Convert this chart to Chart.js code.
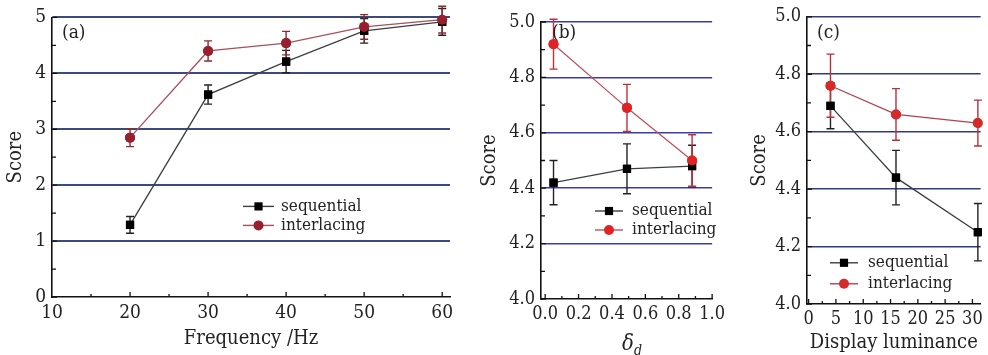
<!DOCTYPE html>
<html>
<head>
<meta charset="utf-8">
<script src="https://cdn.jsdelivr.net/npm/chart.js@4.4.1/dist/chart.umd.min.js"></script>
<style>
  html, body { margin: 0; padding: 0; background: #fff; }
  body { width: 988px; height: 355px; position: relative; overflow: hidden; }
  .panel { position: absolute; top: 0; height: 355px; }
  .xtitle { position: absolute; font-family: 'DejaVu Serif Condensed', 'DejaVu Serif'; font-size: 22px; color: #222; }
</style>
</head>
<body>
<div class="panel" style="left:0;width:470px"><canvas id="chartA"></canvas></div>
<div class="panel" style="left:480px;width:250px"><canvas id="chartB"></canvas></div>
<div class="panel" style="left:740px;width:248px"><canvas id="chartC"></canvas></div>
<div class="xtitle" style="left:622px;top:330px"><i>δ</i><sub style="font-size:14px"><i>d</i></sub></div>
<script>
// (a) frequence
const freq = [20, 30, 40, 50, 60];
const seqA = [1.29, 3.62, 4.21, 4.76, 4.92];
const seqAErr = [0.15, 0.17, 0.20, 0.22, 0.24];
const intA = [2.85, 4.40, 4.54, 4.83, 4.96];
const intAErr = [0.16, 0.18, 0.21, 0.22, 0.24];
const xTicksA = [10, 20, 30, 40, 50, 60];
const yTicksA = [0, 1, 2, 3, 4, 5];

// (b) delta_d
const deltaD = [0.05, 0.49, 0.88];
const seqB = [4.42, 4.47, 4.48];
const seqBErr = [0.08, 0.09, 0.075];
const intB = [4.92, 4.69, 4.50];
const intBErr = [0.09, 0.085, 0.093];
const xTicksB = [0.0, 0.2, 0.4, 0.6, 0.8, 1.0];

// (c) luminance
const lum = [4, 16, 31];
const seqC = [4.69, 4.44, 4.25];
const seqCErr = [0.08, 0.095, 0.10];
const intC = [4.76, 4.66, 4.63];
const intCErr = [0.11, 0.09, 0.08];
const xTicksC = [0, 5, 10, 15, 20, 25, 30];
const yTicksBC = [4.0, 4.2, 4.4, 4.6, 4.8, 5.0];

const serif = "'DejaVu Serif Condensed', 'DejaVu Serif'";

function toPoints(xs, ys) {
    return xs.map((x, i) => ({ x: x, y: ys[i] }));
}

// barres d'erreur, ticks vers l'interieur, legende et etiquette du panneau
const panelDecor = {
    id: 'panelDecor',
    afterDatasetsDraw(chart, args, o) {
        const ctx = chart.ctx;
        const xs = chart.scales.x, ys = chart.scales.y;
        const area = chart.chartArea;

        // barres d'erreur
        chart.data.datasets.forEach((ds, di) => {
            const meta = chart.getDatasetMeta(di);
            ctx.save();
            ctx.strokeStyle = ds.errColor;
            ctx.lineWidth = 1.4;
            meta.data.forEach((pt, i) => {
                const v = ds.data[i].y, e = ds.errors[i];
                const yTop = ys.getPixelForValue(v + e);
                const yBot = ys.getPixelForValue(v - e);
                ctx.beginPath();
                ctx.moveTo(pt.x, yTop); ctx.lineTo(pt.x, yBot);
                ctx.moveTo(pt.x - 4, yTop); ctx.lineTo(pt.x + 4, yTop);
                ctx.moveTo(pt.x - 4, yBot); ctx.lineTo(pt.x + 4, yBot);
                ctx.stroke();
            });
            ctx.restore();
        });
        // redessiner les points au-dessus des barres
        chart.data.datasets.forEach((ds, di) => {
            chart.getDatasetMeta(di).data.forEach(pt => pt.draw(ctx, area));
        });

        // ticks vers l'interieur
        ctx.save();
        ctx.strokeStyle = '#111';
        ctx.lineWidth = 1.3;
        ctx.beginPath();
        for (let v = o.xMinor[0]; v <= o.xMinor[1] + 1e-9; v += o.xMinor[2]) {
            const px = xs.getPixelForValue(v);
            if (px < area.left + 1 || px > area.right + 1) continue;
            const major = xs.ticks.some(t => Math.abs(t.value - v) < 1e-6);
            ctx.moveTo(px, area.bottom);
            ctx.lineTo(px, area.bottom - (major ? 5 : 3));
        }
        for (let v = o.yMinor[0]; v <= o.yMinor[1] + 1e-9; v += o.yMinor[2]) {
            const py = ys.getPixelForValue(v);
            const major = ys.ticks.some(t => Math.abs(t.value - v) < 1e-6);
            ctx.moveTo(area.left, py);
            ctx.lineTo(area.left + (major ? 5 : 4), py);
        }
        ctx.stroke();
        ctx.restore();

        // legende
        ctx.save();
        ctx.font = '17px ' + serif;
        ctx.textBaseline = 'middle';
        chart.data.datasets.forEach((ds, di) => {
            const y = area.top + o.legend.y[di];
            const x1 = area.left + o.legend.x1, x2 = area.left + o.legend.x2;
            const xm = (x1 + x2) / 2;
            ctx.strokeStyle = ds.borderColor;
            ctx.lineWidth = 1.4;
            ctx.beginPath(); ctx.moveTo(x1, y); ctx.lineTo(x2, y); ctx.stroke();
            ctx.fillStyle = ds.pointBackgroundColor;
            ctx.beginPath();
            if (ds.pointStyle === 'rect') {
                const s = Math.SQRT1_2 * ds.pointRadius;
                ctx.rect(xm - s, y - s, 2 * s, 2 * s);
            } else {
                ctx.arc(xm, y, ds.pointRadius, 0, Math.PI * 2);
            }
            ctx.fill();
            ctx.fillStyle = '#222';
            ctx.fillText(ds.label, area.left + o.legend.tx, y);
        });

        // etiquette du panneau
        ctx.font = '19px ' + serif;
        ctx.fillStyle = '#222';
        ctx.fillText(o.tag, area.left + o.tagPos[0], area.top + o.tagPos[1]);
        ctx.restore();
    }
};

function makePanel(id, cfg) {
    const gridColor = cfg.gridColor;
    return new Chart(document.getElementById(id), {
        type: 'scatter',
        data: {
            datasets: [
                {
                    label: 'sequential',
                    data: toPoints(cfg.xs, cfg.seq),
                    errors: cfg.seqErr,
                    errColor: '#222',
                    showLine: true,
                    borderColor: '#3a3f45',
                    borderWidth: 1.3,
                    pointStyle: 'rect',
                    pointRadius: 5.8,
                    pointBackgroundColor: '#000',
                    pointBorderColor: '#000',
                    pointBorderWidth: 0
                },
                {
                    label: 'interlacing',
                    data: toPoints(cfg.xs, cfg.int),
                    errors: cfg.intErr,
                    errColor: cfg.intErrColor,
                    showLine: true,
                    borderColor: cfg.intLine,
                    borderWidth: 1.3,
                    pointStyle: 'circle',
                    pointRadius: 5,
                    pointBackgroundColor: cfg.intPoint,
                    pointBorderColor: cfg.intPoint,
                    pointBorderWidth: 0
                }
            ]
        },
        options: {
            responsive: false,
            animation: false,
            layout: { padding: cfg.padding },
            plugins: {
                legend: { display: false },
                tooltip: { enabled: false },
                panelDecor: cfg.decor
            },
            scales: {
                x: {
                    type: 'linear',
                    min: cfg.xMin,
                    max: cfg.xMax,
                    afterBuildTicks: s => { s.ticks = cfg.xTicks.map(v => ({ value: v })); },
                    afterFit: s => { s.height = cfg.xHeight; },
                    grid: { display: false, drawTicks: false },
                    border: { display: true, color: '#111', width: 1.6 },
                    ticks: {
                        padding: 5,
                        maxRotation: 0,
                        color: '#222',
                        font: { family: serif, size: cfg.tickSize },
                        callback: cfg.xFmt
                    },
                    title: cfg.xTitle ? {
                        display: true,
                        text: cfg.xTitle,
                        color: '#222',
                        padding: { top: 0, bottom: 0 },
                        font: { family: serif, size: 20 }
                    } : { display: false }
                },
                y: {
                    min: cfg.yMin,
                    max: cfg.yMax,
                    afterBuildTicks: s => { s.ticks = cfg.yTicks.map(v => ({ value: v })); },
                    afterFit: s => { s.width = cfg.yWidth; },
                    grid: {
                        drawTicks: false,
                        lineWidth: cfg.gridWidth,
                        color: c => (c.tick && c.tick.value === cfg.yMin) ? 'rgba(0,0,0,0)' : gridColor
                    },
                    border: { display: true, color: '#111', width: 1.6 },
                    ticks: {
                        padding: 6,
                        color: '#222',
                        font: { family: serif, size: cfg.tickSize },
                        callback: cfg.yFmt
                    },
                    title: {
                        display: true,
                        text: 'Score',
                        color: '#222',
                        padding: { top: cfg.yTitlePad, bottom: 0 },
                        font: { family: serif, size: 20, lineHeight: 1 }
                    }
                }
            }
        },
        plugins: [panelDecor]
    });
}

function sizeCanvas(id, w, h) {
    const c = document.getElementById(id);
    c.width = w; c.height = h;
    c.style.width = w + 'px'; c.style.height = h + 'px';
}
sizeCanvas('chartA', 470, 355);
sizeCanvas('chartB', 250, 355);
sizeCanvas('chartC', 248, 355);

makePanel('chartA', {
    xs: freq, seq: seqA, seqErr: seqAErr, int: intA, intErr: intAErr,
    intLine: '#a8505c', intPoint: '#98202e', intErrColor: '#8a2a35',
    gridColor: '#3d4a7c', gridWidth: 2,
    xMin: 10, xMax: 61, xTicks: xTicksA, xFmt: v => String(v),
    yMin: 0, yMax: 5, yTicks: yTicksA, yFmt: v => String(v),
    yWidth: 52, xHeight: 54, yTitlePad: 6, tickSize: 19,
    padding: { top: 16, right: 20, left: 0, bottom: 4 },
    xTitle: 'Frequency /Hz',
    decor: {
        xMinor: [10, 60, 5], yMinor: [0, 5, 0.5],
        legend: { x1: 191, x2: 222, tx: 229, y: [189, 208] },
        tag: '(a)', tagPos: [10, 16]
    }
});

makePanel('chartB', {
    xs: deltaD, seq: seqB, seqErr: seqBErr, int: intB, intErr: intBErr,
    intLine: '#c2505c', intPoint: '#e02424', intErrColor: '#c0303a',
    gridColor: '#3b3bb0', gridWidth: 1.6,
    xMin: -0.025, xMax: 1.0, xTicks: xTicksB, xFmt: v => v.toFixed(1),
    yMin: 4.0, yMax: 5.0, yTicks: yTicksBC, yFmt: v => v.toFixed(1),
    yWidth: 61, xHeight: 56, yTitlePad: 0, tickSize: 18,
    padding: { top: 22, right: 14, left: 0, bottom: 0 },
    xTitle: null,
    decor: {
        xMinor: [0, 1.0, 0.1], yMinor: [4.0, 5.0, 0.1],
        legend: { x1: 54, x2: 82, tx: 91, y: [189, 208] },
        tag: '(b)', tagPos: [11, 11]
    }
});

makePanel('chartC', {
    xs: lum, seq: seqC, seqErr: seqCErr, int: intC, intErr: intCErr,
    intLine: '#b3404e', intPoint: '#d42a2a', intErrColor: '#b8303a',
    gridColor: '#2f3b85', gridWidth: 1.6,
    xMin: -0.3, xMax: 31.5, xTicks: xTicksC, xFmt: v => String(v),
    yMin: 4.0, yMax: 5.0, yTicks: yTicksBC, yFmt: v => v.toFixed(1),
    yWidth: 67, xHeight: 51, yTitlePad: 10, tickSize: 18,
    padding: { top: 14, right: 5, left: 0, bottom: 0 },
    xTitle: 'Display luminance',
    decor: {
        xMinor: [0, 30, 2.5], yMinor: [4.0, 5.0, 0.1],
        legend: { x1: 23, x2: 51, tx: 61, y: [246, 267] },
        tag: '(c)', tagPos: [10, 16]
    }
});
</script>
</body>
</html>
